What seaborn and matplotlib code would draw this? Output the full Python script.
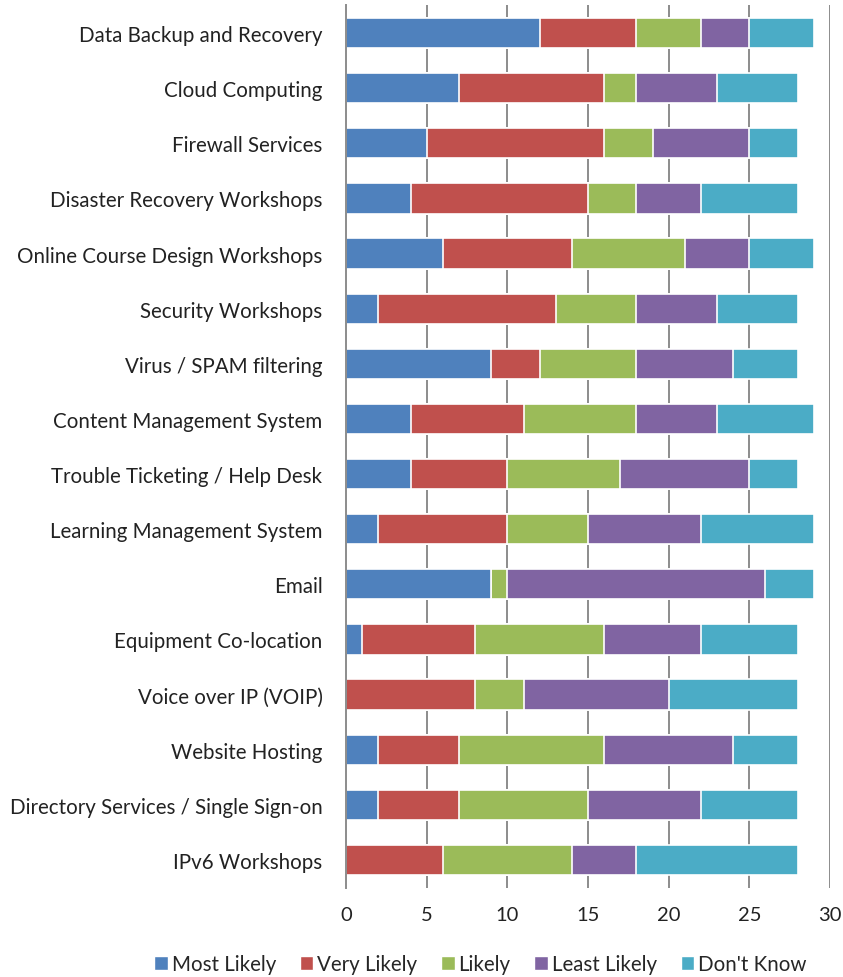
import matplotlib
matplotlib.use("Agg")
import matplotlib.pyplot as plt
import seaborn as sns
import numpy as np
import pandas as pd
from matplotlib.patches import Patch

categories = [
    "Data Backup and Recovery", "Cloud Computing", "Firewall Services",
    "Disaster Recovery Workshops", "Online Course Design Workshops",
    "Security Workshops", "Virus / SPAM filtering", "Content Management System",
    "Trouble Ticketing / Help Desk", "Learning Management System", "Email",
    "Equipment Co-location", "Voice over IP (VOIP)", "Website Hosting",
    "Directory Services / Single Sign-on", "IPv6 Workshops",
]
most_likely = [12, 7, 5, 4, 6, 2, 9, 4, 4, 2, 9, 1, 0, 2, 2, 0]
very_likely = [6, 9, 11, 11, 8, 11, 3, 7, 6, 8, 0, 7, 8, 5, 5, 6]
likely = [4, 2, 3, 3, 7, 5, 6, 7, 7, 5, 1, 8, 3, 9, 8, 8]
least_likely = [3, 5, 6, 4, 4, 5, 6, 5, 8, 7, 16, 6, 9, 8, 7, 4]
dont_know = [4, 5, 3, 6, 4, 5, 4, 6, 3, 7, 3, 6, 8, 4, 6, 10]

series_names = ["Most Likely", "Very Likely", "Likely", "Least Likely", "Don't Know"]
series_vals = [most_likely, very_likely, likely, least_likely, dont_know]
colors = ["#4F81BD", "#C0504D", "#9BBB59", "#8064A2", "#4BACC6"]
x_ticks = [0, 5, 10, 15, 20, 25, 30]

sns.set_theme(style="white")
plt.rcParams["font.family"] = ["Lato", "DejaVu Sans"]

df = pd.DataFrame({"cat": categories})
for n, v in zip(series_names, series_vals):
    df[n] = v
cum = df[series_names].cumsum(axis=1)

fig = plt.figure(figsize=(8.43, 9.78), dpi=100)
ax = fig.add_axes([0.4105, 0.0915, 0.5741, 0.9019])

for x in x_ticks[1:]:
    ax.axvline(x, color="#8C8C8C", lw=1.4, zorder=0)

for i in reversed(range(len(series_names))):
    sns.barplot(x=cum[series_names[i]], y=df["cat"], color=colors[i], orient="h",
                width=0.55, edgecolor="white", linewidth=1.2, ax=ax, zorder=2,
                saturation=1)

ax.set_xlim(0, 30)
ax.set_xticks(x_ticks)
ax.set_xticklabels([str(t) for t in x_ticks], fontsize=14.5, color="#222222")
ax.tick_params(axis="x", length=0, pad=13)
ax.tick_params(axis="y", length=0, pad=17, labelsize=14.8, labelcolor="#222222")
ax.set_xlabel("")
ax.set_ylabel("")
for s in ["top", "bottom", "right"]:
    ax.spines[s].set_visible(False)
ax.spines["left"].set_color("#8C8C8C")
ax.spines["left"].set_linewidth(1.4)

handles = [Patch(facecolor=c, edgecolor="white", label=n) for c, n in zip(colors, series_names)]
fig.legend(handles=handles, loc="lower center", ncol=5, frameon=False, fontsize=14.8,
           bbox_to_anchor=(0.57, -0.016), handlelength=0.65, handleheight=0.65,
           handletextpad=0.2, columnspacing=1.15)

fig.savefig("out.png", dpi=100)
